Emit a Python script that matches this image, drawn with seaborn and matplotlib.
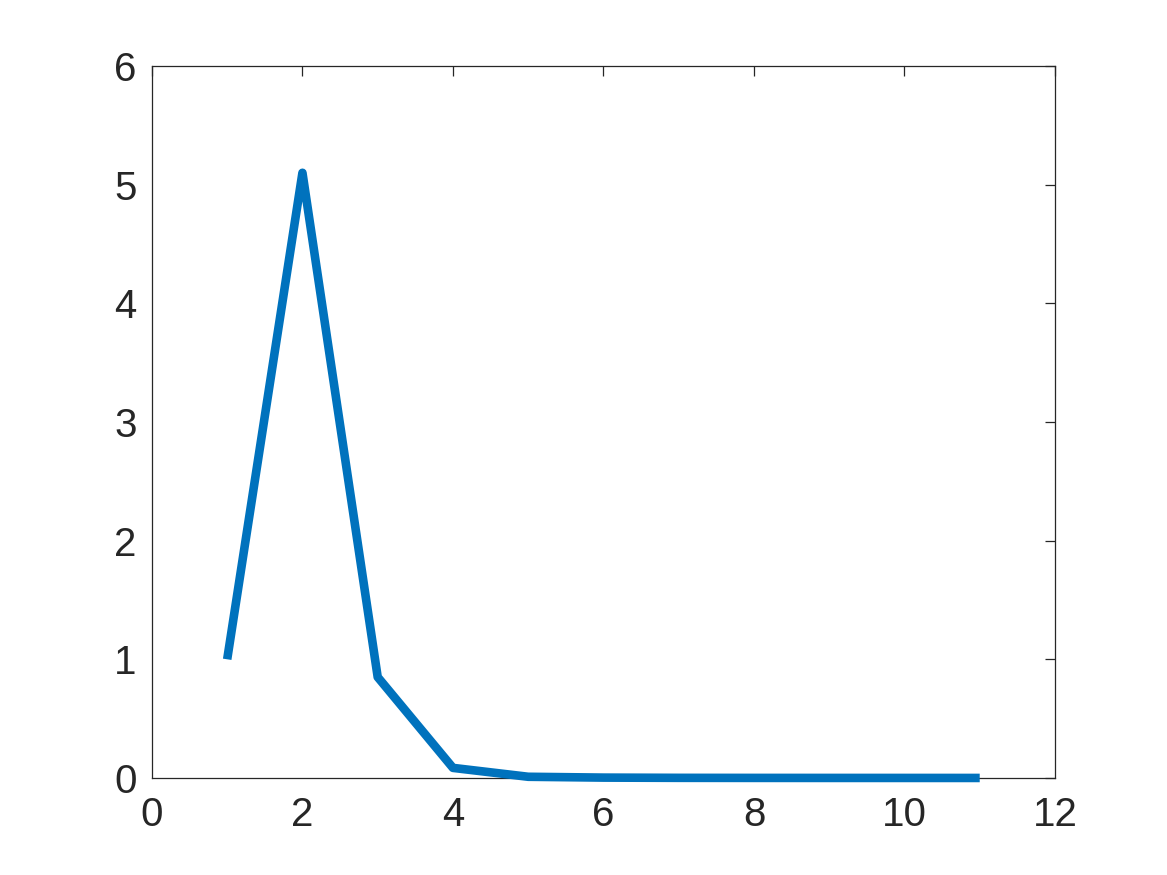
#importing libraries
import matplotlib
matplotlib.use("Agg")
import matplotlib.pyplot as plt
import seaborn as sns
import pandas as pd

#data
steps = [1, 2, 3, 4, 5, 6, 7, 8, 9, 10, 11]
values = [1.0, 5.1, 0.85, 0.085, 0.01, 0.003, 0.001, 0.0005, 0.0003, 0.0002, 0.0001]

df = pd.DataFrame({"step": steps, "value": values})

sns.set_style("white")
plt.rcParams["font.family"] = ["Liberation Sans", "DejaVu Sans"]

fig = plt.figure(figsize=(11.67, 8.75), dpi=100)
ax = fig.add_axes([0.1302, 0.1109, 0.7738, 0.8137])

sns.lineplot(data=df, x="step", y="value", ax=ax, color="#0072BD",
             linewidth=6.2, solid_capstyle="butt", solid_joinstyle="round",
             clip_on=False, zorder=3)

ax.set_xlim(0, 12)
ax.set_ylim(0, 6)
ax.set_xticks([0, 2, 4, 6, 8, 10, 12])
ax.set_yticks([0, 1, 2, 3, 4, 5, 6])
ax.set_xlabel("")
ax.set_ylabel("")

for s in ax.spines.values():
    s.set_visible(True)
    s.set_color("#262626")
    s.set_linewidth(0.9)

ax.tick_params(direction="in", length=7, width=0.9, color="#262626",
               labelcolor="#262626", labelsize=29, top=True, right=True)
ax.tick_params(axis="x", pad=13)
ax.tick_params(axis="y", pad=11)

plt.savefig("out.png", dpi=100)
